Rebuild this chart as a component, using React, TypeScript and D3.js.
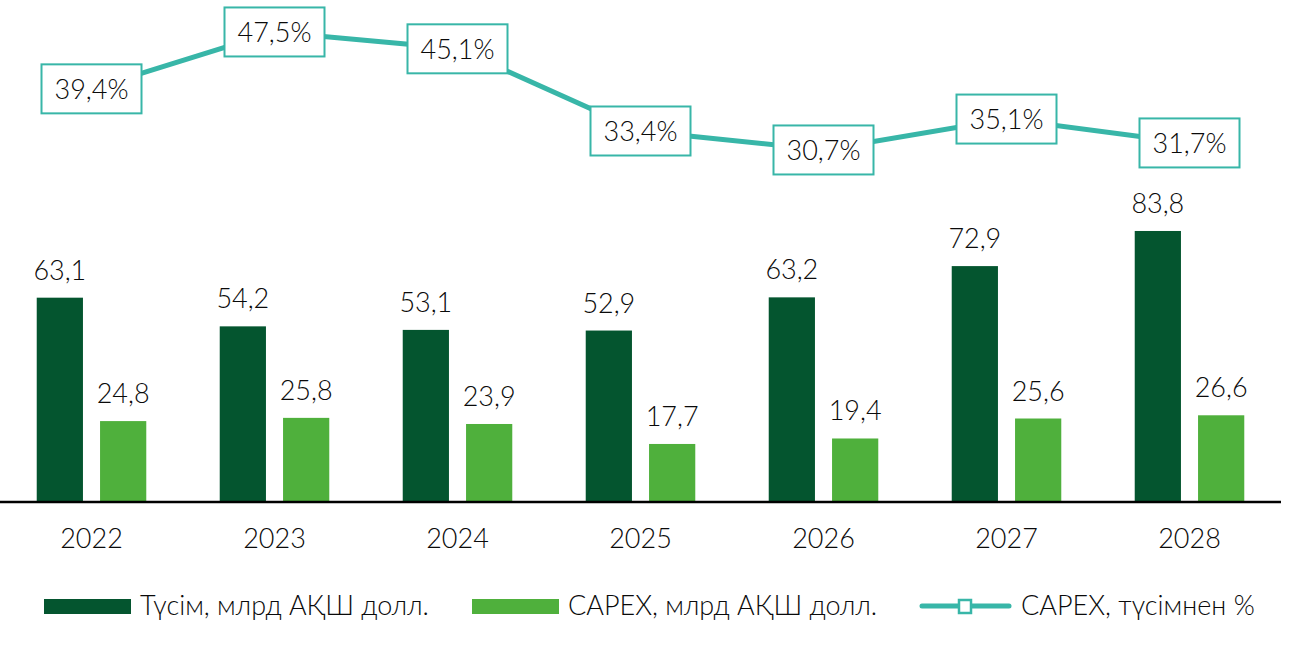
import * as d3 from "d3";

const years = ["2022", "2023", "2024", "2025", "2026", "2027", "2028"];
const revenue = [63.1, 54.2, 53.1, 52.9, 63.2, 72.9, 83.8];
const capex = [24.8, 25.8, 23.9, 17.7, 19.4, 25.6, 26.6];
const capexShare = [39.4, 47.5, 45.1, 33.4, 30.7, 35.1, 31.7];
const legendLabels = ["Түсім, млрд АҚШ долл.", "CAPEX, млрд АҚШ долл.", "CAPEX, түсімнен %"];

const W = 1292;
const H = 659;
const BASE = 501;
const DARK = "#04552F";
const LIGHT = "#4FB03C";
const TEAL = "#38B6A8";
const FONT = "Lato, 'Open Sans', sans-serif";
const FS = 27;

const fmt = (v: number) => v.toFixed(1).replace(".", ",");

export default function App() {
  const x = d3.scaleBand<string>().domain(years).range([0, 1281]).paddingInner(0).paddingOuter(0);
  const inner = d3.scaleBand<string>().domain(["rev", "capex"]).range([0, x.bandwidth()]).paddingInner(0.27).paddingOuter(0.58);
  const y = d3.scaleLinear().domain([0, 90]).range([BASE, 211]);
  const y2 = d3.scaleLinear().domain([25, 50]).range([190, 14.4]);

  const cx = (d: string) => (x(d) ?? 0) + x.bandwidth() / 2;
  const line = d3
    .line<number>()
    .x((_, i) => cx(years[i]))
    .y((v) => y2(v));

  const series = [
    { key: "rev", values: revenue, color: DARK },
    { key: "capex", values: capex, color: LIGHT },
  ];

  return (
    <svg
      width={W}
      height={H}
      style={{ position: "absolute", left: 0, top: 0, background: "#fff" }}
      fontFamily={FONT}
      fontWeight={300}
    >
      {series.map((s) =>
        s.values.map((v, i) => {
          const bx = (x(years[i]) ?? 0) + (inner(s.key) ?? 0);
          return (
            <g key={s.key + i}>
              <rect x={bx} y={y(v)} width={inner.bandwidth()} height={BASE - y(v)} fill={s.color} />
              <text x={bx + inner.bandwidth() / 2} y={y(v) - 18} textAnchor="middle" fontSize={FS} fill="#0a0a0a">
                {fmt(v)}
              </text>
            </g>
          );
        })
      )}
      <line x1={0} x2={1281} y1={BASE + 1} y2={BASE + 1} stroke="#000" strokeWidth={2.5} />
      {years.map((yr) => (
        <text key={yr} x={cx(yr)} y={548} textAnchor="middle" fontSize={FS} fill="#0a0a0a">
          {yr}
        </text>
      ))}

      <path d={line(capexShare) ?? ""} fill="none" stroke={TEAL} strokeWidth={5} />
      {capexShare.map((v, i) => {
        const px = cx(years[i]);
        const py = y2(v);
        return (
          <g key={"l" + i}>
            <rect x={px - 50} y={py - 24.5} width={100} height={49} fill="#fff" stroke={TEAL} strokeWidth={2} />
            <text x={px} y={py + 10} textAnchor="middle" fontSize={FS} fill="#0a0a0a">
              {fmt(v)}%
            </text>
          </g>
        );
      })}

      <g>
        <rect x={44} y={599} width={87} height={15} fill={DARK} />
        <text x={140} y={615} fontSize={FS} fill="#0a0a0a">{legendLabels[0]}</text>
        <rect x={472} y={599} width={87} height={15} fill={LIGHT} />
        <text x={568} y={615} fontSize={FS} fill="#0a0a0a">{legendLabels[1]}</text>
        <line x1={922} x2={1009} y1={606} y2={606} stroke={TEAL} strokeWidth={5} strokeLinecap="round" />
        <rect x={959} y={600} width={12} height={13} fill="#fff" stroke={TEAL} strokeWidth={2.5} />
        <text x={1021} y={615} fontSize={FS} fill="#0a0a0a">{legendLabels[2]}</text>
      </g>
    </svg>
  );
}
